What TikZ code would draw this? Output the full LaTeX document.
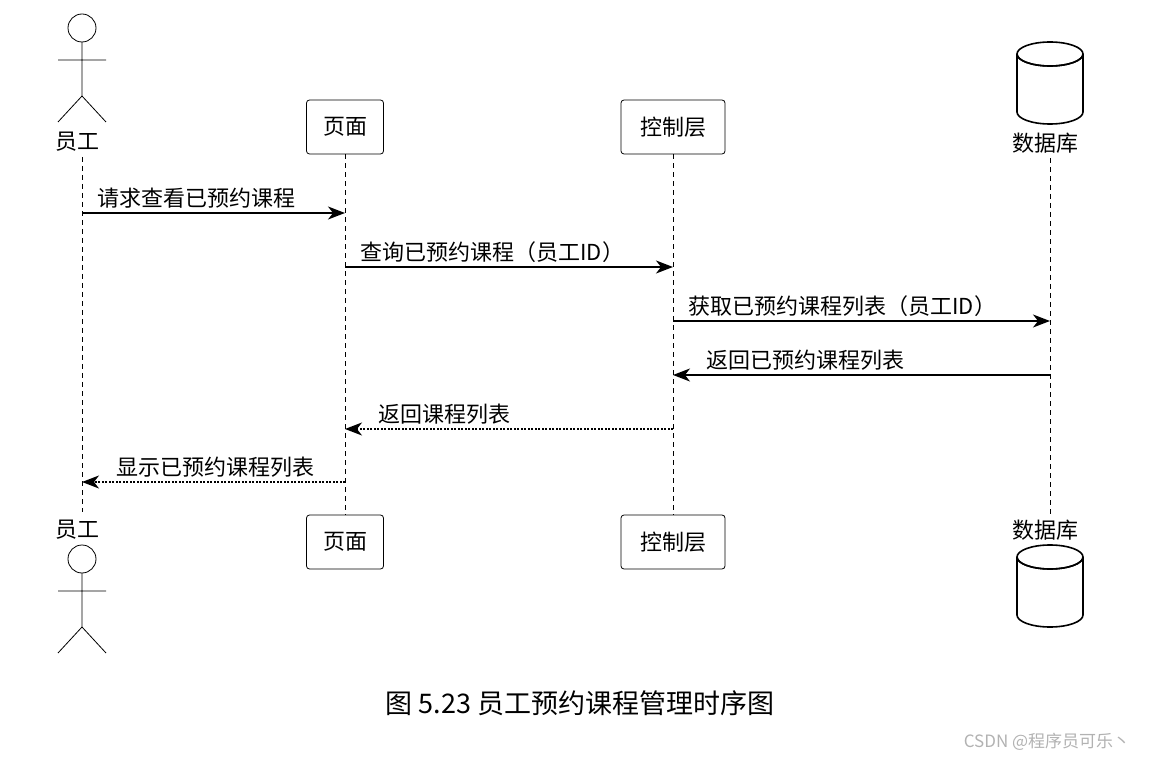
\documentclass[tikz,border=0pt]{standalone}
\usepackage{fontspec}
\setmainfont{Noto Sans CJK SC}
\usetikzlibrary{arrows.meta}
\begin{document}
\begin{tikzpicture}[x=1pt,y=-1pt,
  box/.style={draw,rounded corners=3pt,minimum height=54pt,font=\fontsize{22}{26}\selectfont,line width=0.8pt},
  lbl/.style={font=\fontsize{22}{26}\selectfont},
  life/.style={line width=0.6pt,dash pattern=on 5pt off 4pt},
  msg/.style={-{Stealth[length=17pt,width=13pt,inset=5pt]},line width=1.3pt},
  ret/.style={msg,dash pattern=on 2pt off 1.5pt}]
\useasboundingbox (0,0) rectangle (1163,762);
\tikzset{actor/.pic={
  \draw[line width=0.8pt] (0,0) circle (14);
  \draw[line width=0.8pt] (0,14) -- (0,68) (-24,32) -- (24,32) (0,68) -- (-24,94) (0,68) -- (24,94);},
  dbs/.pic={
  \draw[line width=1.6pt] (-33,0) -- (-33,58) arc[start angle=180,end angle=0,x radius=33,y radius=12] -- (33,0);
  \draw[line width=1.6pt] (0,0) ellipse[x radius=33,y radius=12];
  \draw[line width=1.6pt] (-33,0) arc[start angle=180,end angle=0,x radius=33,y radius=12];}}
\pic at (82,28) {actor};
\pic at (82,559) {actor};
\node[lbl] (e1) at (78,142) {员工};
\node[lbl] (e2) at (78,530) {员工};
\node[box,minimum width=77pt] (p1) at (345,127) {页面};
\node[box,minimum width=77pt] (p2) at (345,542) {页面};
\node[box,minimum width=104pt] (c1) at (673,127) {控制层};
\node[box,minimum width=104pt] (c2) at (673,542) {控制层};
\pic at (1050,54) {dbs};
\pic at (1050,557) {dbs};
\node[lbl] (dl1) at (1045,143) {数据库};
\node[lbl] (dl2) at (1045,530) {数据库};
\draw[life] (82,157) -- (82,512);
\draw[life] (p1.south) -- (p2.north);
\draw[life] (c1.south) -- (c2.north);
\draw[life] (1050,158) -- (1050,515);
\coordinate (a1) at (82,213); \coordinate (b1) at (345,213);
\coordinate (a2) at (345,267); \coordinate (b2) at (673,267);
\coordinate (a3) at (673,321); \coordinate (b3) at (1050,321);
\coordinate (a4) at (1050,375); \coordinate (b4) at (673,375);
\coordinate (a5) at (673,429); \coordinate (b5) at (345,429);
\coordinate (a6) at (345,482); \coordinate (b6) at (82,482);
\draw[msg] (a1) -- (b1);
\draw[msg] (a2) -- (b2);
\draw[msg] (a3) -- (b3);
\draw[msg] (a4) -- (b4);
\draw[ret] (a5) -- (b5);
\draw[ret] (a6) -- (b6);
\node[lbl,anchor=south west] (m1) at (94,212) {请求查看已预约课程};
\node[lbl,anchor=south west] (m2) at (357,266) {查询已预约课程（员工ID）};
\node[lbl,anchor=south west] (m3) at (685,320) {获取已预约课程列表（员工ID）};
\node[lbl,anchor=south west] (m4) at (703,374) {返回已预约课程列表};
\node[lbl,anchor=south west] (m5) at (375,428) {返回课程列表};
\node[lbl,anchor=south west] (m6) at (113,481) {显示已预约课程列表};
\node[font=\fontsize{27}{32}\selectfont] (cap) at (580,703) {图 5.23 员工预约课程管理时序图};
\node[font=\fontsize{17}{20}\selectfont,text=gray!60] (wm) at (1047,742) {CSDN @程序员可乐丶};
\end{tikzpicture}
\end{document}
